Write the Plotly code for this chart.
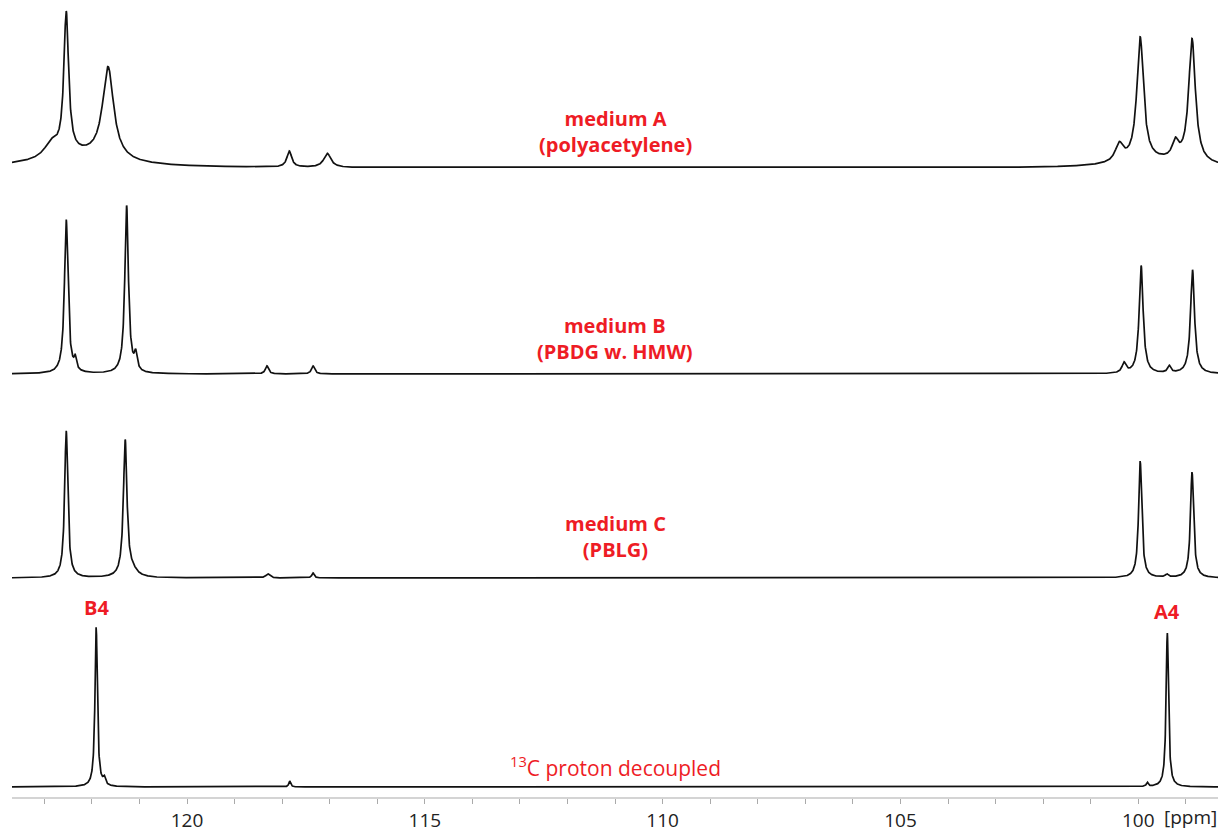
import numpy as np
import plotly.graph_objects as go

# ---- data (peak lists; heights in arbitrary intensity units) ----
spectra = ["medium A", "medium B", "medium C", "13C decoupled"]
baselines = [629, 423, 219, 10]

# medium A (polyacetylene)
a_pos = [122.85, 122.54, 122.30, 121.66, 117.85, 117.05, 100.40, 99.96, 99.22, 98.87, 99.6]
a_hgt = [14, 140, 12, 92, 16, 14, 18, 124, 17, 124, 6]
a_wid = [0.35, 0.12, 2.0, 0.28, 0.12, 0.18, 0.2, 0.17, 0.16, 0.17, 2.0]

# medium B (PBDG w. HMW)
b_pos = [122.54, 122.35, 121.27, 121.08, 118.32, 117.35, 100.30, 99.94, 99.35, 98.86]
b_hgt = [154, 11, 168, 16, 8, 8, 10, 108, 7, 104]
b_wid = [0.09, 0.06, 0.09, 0.07, 0.08, 0.08, 0.1, 0.1, 0.08, 0.1]

# medium C (PBLG)
c_pos = [122.54, 121.30, 121.15, 118.30, 117.35, 99.96, 99.40, 98.87]
c_hgt = [147, 136, 6, 4, 5, 117, 3, 106]
c_wid = [0.08, 0.09, 0.25, 0.1, 0.06, 0.08, 0.08, 0.08]

# 13C proton decoupled
d_pos = [121.91, 121.74, 117.84, 99.81, 99.39]
d_hgt = [160, 7, 6, 4, 154]
d_wid = [0.06, 0.06, 0.05, 0.05, 0.06]

tick_vals = [100, 105, 110, 115, 120]
tick_text = ["100", "105", "110", "115", "120"]

labels = [("medium A<br>(polyacetylene)", 131), ("medium B<br>(PBDG w. HMW)", 338),
          ("medium C<br>(PBLG)", 536)]

ppm = np.linspace(123.68, 98.24, 6000)


def lorentz_sum(pos, hgt, wid):
    y = np.zeros_like(ppm)
    for p, h, w in zip(pos, hgt, wid):
        g = w / 2.0
        y += h * g * g / ((ppm - p) ** 2 + g * g)
    return y


peak_sets = [(a_pos, a_hgt, a_wid), (b_pos, b_hgt, b_wid), (c_pos, c_hgt, c_wid),
             (d_pos, d_hgt, d_wid)]

fig = go.Figure()
for name, base, (p, h, w) in zip(spectra, baselines, peak_sets):
    fig.add_trace(go.Scatter(x=ppm, y=base + lorentz_sum(p, h, w), mode="lines",
                             line=dict(color="#111111", width=1.7), name=name,
                             showlegend=False, hoverinfo="skip"))

red = "#ee1c25"
font_fam = "'Open Sans', Lato, sans-serif"
label_x = 111.0
for txt, ypix in labels:
    fig.add_annotation(x=label_x, y=797 - ypix, text="<b>" + txt + "</b>",
                       showarrow=False, font=dict(color=red, size=20, family=font_fam),
                       align="center")
fig.add_annotation(x=121.91, y=797 - 607, text="<b>B4</b>", showarrow=False,
                   font=dict(color=red, size=20, family=font_fam))
fig.add_annotation(x=99.39, y=797 - 611, text="<b>A4</b>", showarrow=False,
                   font=dict(color=red, size=20, family=font_fam))
fig.add_annotation(x=label_x, y=797 - 766,
                   text="<sup>13</sup>C proton decoupled", showarrow=False,
                   font=dict(color=red, size=21, family=font_fam))
fig.add_annotation(x=98.9, xref="x", y=-20 / 789, yref="paper", yanchor="middle",
                   text="[ppm]", showarrow=False,
                   font=dict(color="#222222", size=19, family=font_fam))

# page body has an 8px margin: plot area placed so it lands on screen x 12..1222, y 0..797
fig.update_layout(
    width=1226, height=832,
    margin=dict(l=4, r=12, t=0, b=43),
    paper_bgcolor="white", plot_bgcolor="white",
    xaxis=dict(range=[123.68, 98.24], showgrid=False, zeroline=False,
               showline=True, linecolor="#d4d4d4", linewidth=2,
               ticks="outside", ticklen=5, tickcolor="#aaaaaa", tickwidth=1,
               tickvals=tick_vals, ticktext=tick_text,
               tickfont=dict(size=19, color="#222222", family=font_fam),
               minor=dict(dtick=1, ticks="outside", ticklen=5, tickcolor="#aaaaaa",
                          showgrid=False)),
    yaxis=dict(range=[0, 789], visible=False, showgrid=False, zeroline=False),
)

fig.write_html("out.html")
